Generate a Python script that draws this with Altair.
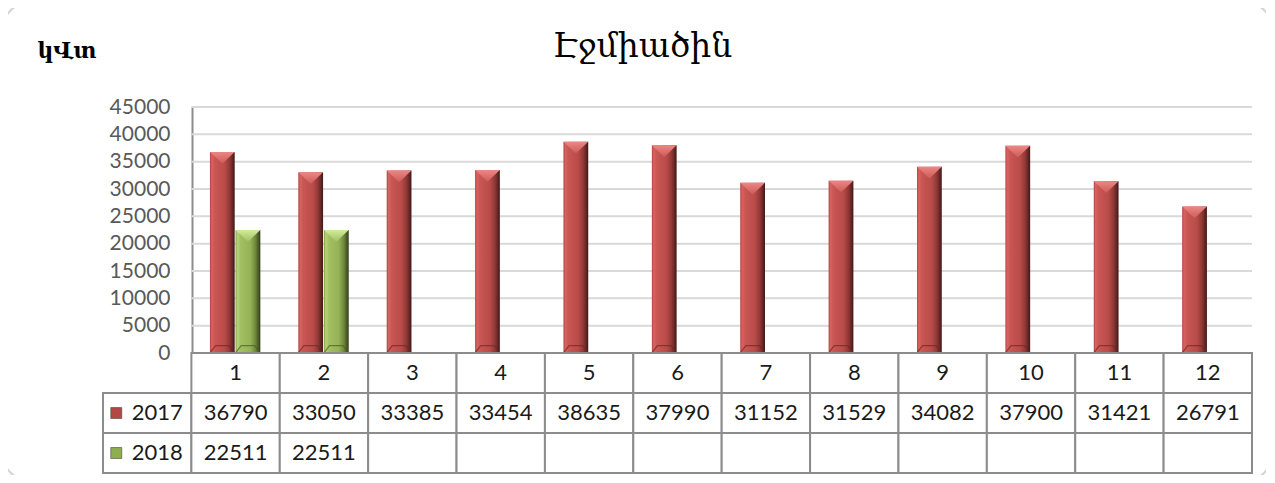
import altair as alt
import pandas as pd

# ---------------- data ----------------
months = list(range(1, 13))
years = ["2017", "2018"]
v2017 = [36790, 33050, 33385, 33454, 38635, 37990, 31152, 31529, 34082, 37900, 31421, 26791]
v2018 = [22511, 22511, None, None, None, None, None, None, None, None, None, None]
y_ticks = [0, 5000, 10000, 15000, 20000, 25000, 30000, 35000, 40000, 45000]
title_text = "Էջմիածին"
unit_text = "կՎտ"

# ---------------- tables built from the arrays ----------------
bar_rows = []
for m, v in zip(months, v2017):
    bar_rows.append({"month": m, "year": "2017", "value": v})
for m, v in zip(months, v2018):
    if v is not None:
        bar_rows.append({"month": m, "year": "2018", "value": v})
bars_df = pd.DataFrame(bar_rows)

grid_df = pd.DataFrame({"tick": [t for t in y_ticks if t > 0]})

cell_rows = []
for m in months:
    cell_rows.append({"row": "head", "col": m, "label": str(m)})
for yr, vals in zip(years, [v2017, v2018]):
    cell_rows.append({"row": yr, "col": 0, "label": ""})
    for m, v in zip(months, vals):
        cell_rows.append({"row": yr, "col": m, "label": "" if v is None else str(v)})
cells_df = pd.DataFrame(cell_rows)
legend_df = pd.DataFrame({"row": years, "col": [0, 0], "label": years})

# ---------------- styles ----------------
FONT = "Lato"
RED = alt.Gradient(gradient="linear", x1=0, x2=1, y1=0, y2=0, stops=[
    alt.GradientStop(color="#a9403d", offset=0),
    alt.GradientStop(color="#d9625f", offset=0.07),
    alt.GradientStop(color="#c95653", offset=0.2),
    alt.GradientStop(color="#b84b48", offset=0.6),
    alt.GradientStop(color="#8f3836", offset=0.8),
    alt.GradientStop(color="#5e2422", offset=0.93),
    alt.GradientStop(color="#3f1716", offset=1)])
GREEN = alt.Gradient(gradient="linear", x1=0, x2=1, y1=0, y2=0, stops=[
    alt.GradientStop(color="#809a45", offset=0),
    alt.GradientStop(color="#b5d474", offset=0.07),
    alt.GradientStop(color="#a2c061", offset=0.2),
    alt.GradientStop(color="#94b354", offset=0.6),
    alt.GradientStop(color="#70873d", offset=0.8),
    alt.GradientStop(color="#475824", offset=0.93),
    alt.GradientStop(color="#2f3b17", offset=1)])
RED_TOP = alt.Gradient(gradient="linear", x1=0, x2=0, y1=0, y2=1, stops=[
    alt.GradientStop(color="#ec8784", offset=0),
    alt.GradientStop(color="#cc5b58", offset=1)])
GREEN_TOP = alt.Gradient(gradient="linear", x1=0, x2=0, y1=0, y2=1, stops=[
    alt.GradientStop(color="#d0eb9c", offset=0),
    alt.GradientStop(color="#a3c162", offset=1)])

xs = alt.Scale(domain=[-0.5, 12.5], nice=False, zero=False)
ys = alt.Scale(domain=[0, 45000], range=[246, 0], nice=False)
rows_scale = alt.Scale(domain=["head"] + years, range=[246, 366], paddingInner=0, paddingOuter=0)

Y_AXIS = alt.Axis(
    values=y_ticks, format="d", offset=-89, labelPadding=22, ticks=False, grid=False,
    domainColor="#8c8c8c", domainWidth=2, labelFont=FONT, labelFontSize=21,
    labelColor="#595959", title=unit_text, titleAngle=0, titleFont="DejaVu Serif",
    titleFontWeight="bold", titleFontSize=22, titleColor="black", titleAlign="left",
    titleBaseline="alphabetic", titleX=-155, titleY=-50)

base_bars = alt.Chart(bars_df).transform_calculate(
    x0="datum.month + (datum.year == '2017' ? -0.29 : 0.0)",
    x1="datum.month + (datum.year == '2017' ? -0.01 : 0.28)",
    xc="datum.month + (datum.year == '2017' ? -0.15 : 0.14)",
)

grid = alt.Chart(grid_df).mark_rule(color="#d9d9d9", strokeWidth=2).encode(
    y=alt.Y("tick:Q", scale=ys, axis=Y_AXIS),
    x=alt.X("g0:Q", scale=xs, axis=None),
    x2="g1:Q",
).transform_calculate(g0="0.5", g1="12.5")

def bar_layer(year, fill):
    return base_bars.transform_filter(f"datum.year == '{year}'").mark_rect(fill=fill).encode(
        x=alt.X("x0:Q", scale=xs, axis=None), x2="x1:Q",
        y=alt.Y("value:Q", scale=ys, axis=Y_AXIS), y2=alt.datum(0))

def top_layer(year, fill):
    return base_bars.transform_filter(f"datum.year == '{year}'").mark_point(
        shape="M-1,0L1,0L0,0.95Z", size=610, filled=True, fill=fill, opacity=1, strokeWidth=0).encode(
        x=alt.X("xc:Q", scale=xs, axis=None),
        y=alt.Y("value:Q", scale=ys, axis=Y_AXIS))

def bottom_layer(year, color):
    return base_bars.transform_filter(f"datum.year == '{year}'").mark_point(
        shape="M-1,0L1,0L0.55,-0.6L-0.55,-0.6Z", size=610, filled=False, stroke=color,
        strokeWidth=1.2, opacity=0.7).encode(
        x=alt.X("xc:Q", scale=xs, axis=None),
        y=alt.Y("base:Q", scale=ys, axis=Y_AXIS)).transform_calculate(base="0")

upper = alt.layer(
    grid,
    bar_layer("2017", RED), top_layer("2017", RED_TOP), bottom_layer("2017", "#6e2826"),
    bar_layer("2018", GREEN), top_layer("2018", GREEN_TOP), bottom_layer("2018", "#4a5c25"),
)

# decorative rounded frame of the chart area
frame = alt.Chart(pd.DataFrame({"k": [0]})).mark_rect(
    fill="transparent", stroke="#d4d4d4", strokeWidth=2, cornerRadius=22).encode(
    x=alt.value(-99), x2=alt.value(1168), y=alt.value(-103), y2=alt.value(372))

cells = alt.Chart(cells_df).transform_calculate(
    c0="datum.col - 0.5", c1="datum.col + 0.5")
table_rect = cells.mark_rect(fill="white", stroke="#8c8c8c", strokeWidth=2).encode(
    x=alt.X("c0:Q", scale=xs, axis=None), x2="c1:Q",
    y=alt.Y("row:N", scale=rows_scale, axis=None))
table_text = cells.mark_text(font=FONT, fontSize=22, color="#1a1a1a").encode(
    x=alt.X("col:Q", scale=xs, axis=None),
    y=alt.Y("row:N", scale=rows_scale, axis=None),
    text="label:N")
legend_text = alt.Chart(legend_df).mark_text(font=FONT, fontSize=22, color="#1a1a1a", dx=10).encode(
    x=alt.X("col:Q", scale=xs, axis=None),
    y=alt.Y("row:N", scale=rows_scale, axis=None),
    text="label:N")
legend_sym = alt.Chart(legend_df).transform_calculate(sx="datum.col - 0.35").mark_square(
    size=120, filled=True, opacity=1, stroke="#444444", strokeWidth=0.6).encode(
    x=alt.X("sx:Q", scale=xs, axis=None),
    y=alt.Y("row:N", scale=rows_scale, axis=None),
    fill=alt.Fill("label:N", scale=alt.Scale(domain=years, range=["#b24744", "#8fae4f"]), legend=None))

lower = alt.layer(table_rect, table_text, legend_text, legend_sym)

chart = alt.layer(frame, upper, lower).resolve_scale(y="independent").properties(
    width=1149, height=366,
    background="white",
    autosize=alt.AutoSizeParams(type="none"),
    padding={"left": 95, "top": 99, "right": 14, "bottom": 2},
    title=alt.Title(title_text, font="DejaVu Serif", fontSize=33, fontWeight="normal",
                    color="black", anchor="middle", dx=-35, offset=-61),
).configure_view(strokeWidth=0, stroke=None)

chart.save("out.html", embed_options={"renderer": "svg", "actions": False})
